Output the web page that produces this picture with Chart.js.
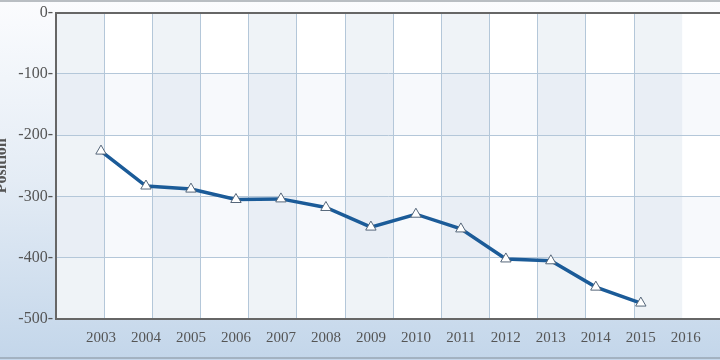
<!DOCTYPE html>
<html>
<head>
<meta charset="utf-8">
<script src="https://cdn.jsdelivr.net/npm/chart.js@4"></script>
<style>
  html, body { margin: 0; padding: 0; }
  body { width: 720px; height: 360px; overflow: hidden; position: relative;
         background: linear-gradient(to bottom, #fbfcfe 0%, #e4ecf5 50%, #c3d6ea 100%); }
  #wrap { position: absolute; left: -8px; top: 0; width: 728px; height: 360px; }
  #topline { position: absolute; left: 0; top: 0; width: 720px; height: 2px; background: #b9bec3; }
  #botline { position: absolute; left: 0; top: 357px; width: 720px; height: 2px; background: #a3b2c1; }
</style>
</head>
<body>
<div id="wrap"><canvas id="chart" width="728" height="360"></canvas></div>
<div id="topline"></div>
<div id="botline"></div>
<script>
// données
const years = [2003, 2004, 2005, 2006, 2007, 2008, 2009, 2010, 2011, 2012, 2013, 2014, 2015];
const positions = [-226, -283, -288, -305, -304, -318, -350, -329, -353, -402, -405, -448, -474];
const yearTicks = [2003, 2004, 2005, 2006, 2007, 2008, 2009, 2010, 2011, 2012, 2013, 2014, 2015, 2016];
const yTicks = [0, -100, -200, -300, -400, -500];

const serif = '"Liberation Serif", "DejaVu Serif", serif';

// bandes de fond (colonnes et lignes alternées)
const bands = {
  id: 'bands',
  beforeDraw(chart) {
    const a = chart.chartArea, g = chart.scales.grid, y = chart.scales.y;
    const ctx = chart.ctx;
    ctx.save();
    ctx.fillStyle = '#ffffff';
    ctx.fillRect(a.left, a.top, a.right - a.left, a.bottom - a.top);
    for (let i = 0; i < 14; i++) {
      if (i % 2 !== 0) continue;
      const x0 = g.getPixelForValue(i), x1 = Math.min(g.getPixelForValue(i + 1), a.right);
      ctx.fillStyle = '#eff3f7';
      ctx.fillRect(x0, a.top, x1 - x0, a.bottom - a.top);
    }
    for (let v = -100; v > -500; v -= 200) {
      const y0 = y.getPixelForValue(v), y1 = y.getPixelForValue(v - 100);
      ctx.fillStyle = 'rgba(190,208,228,0.13)';
      ctx.fillRect(a.left, y0, a.right - a.left, y1 - y0);
    }
    ctx.restore();
  }
};

let ctx = document.getElementById('chart').getContext('2d');
new Chart(ctx, {
  type: 'line',
  data: {
    datasets: [{
      label: 'Position',
      data: years.map((yr, i) => ({ x: yr, y: positions[i] })),
      borderColor: '#1b5b98',
      borderWidth: 3.5,
      tension: 0,
      pointStyle: 'triangle',
      pointRadius: 6,
      pointBackgroundColor: '#ffffff',
      pointBorderColor: '#56677a',
      pointBorderWidth: 1
    }]
  },
  plugins: [bands],
  options: {
    responsive: false,
    animation: false,
    devicePixelRatio: 1,
    layout: { autoPadding: false, padding: { top: 12, right: 0, left: 0, bottom: 0 } },
    plugins: { legend: { display: false }, tooltip: { enabled: false } },
    scales: {
      x: {
        type: 'linear',
        min: 2002,
        max: 2016.76,
        afterBuildTicks: s => { s.ticks = yearTicks.map(v => ({ value: v })); },
        afterFit: s => { s.height = 41; s.paddingLeft = 0; s.paddingRight = 0; },
        grid: { display: false, drawTicks: false },
        border: { display: true, color: '#666', width: 2 },
        ticks: {
          padding: 10,
          color: '#555',
          font: { family: serif, size: 15 },
          callback: v => String(v),
          maxRotation: 0,
          autoSkip: false
        }
      },
      grid: {
        type: 'linear',
        position: 'bottom',
        min: 0,
        max: 13.785,
        afterFit: s => { s.height = 0; s.paddingLeft = 0; s.paddingRight = 0; },
        ticks: { display: false, stepSize: 1 },
        grid: { color: '#b4c7d9', lineWidth: 1, drawTicks: false },
        border: { display: false }
      },
      y: {
        min: -500,
        max: 0,
        afterBuildTicks: s => { s.ticks = yTicks.map(v => ({ value: v })); },
        afterFit: s => { s.width = 64; },
        grid: {
          drawTicks: false,
          color: c => (c.tick.value === 0 ? '#666' : '#b4c7d9'),
          lineWidth: c => (c.tick.value === 0 ? 2 : 1)
        },
        border: { display: true, color: '#666', width: 2 },
        title: {
          display: true,
          text: 'Position',
          color: '#555',
          font: { family: serif, size: 16, weight: 'bold' },
          padding: 0
        },
        ticks: {
          padding: 3,
          color: '#555',
          font: { family: serif, size: 16 },
          callback: v => v + '-'
        }
      }
    }
  }
});
</script>
</body>
</html>
